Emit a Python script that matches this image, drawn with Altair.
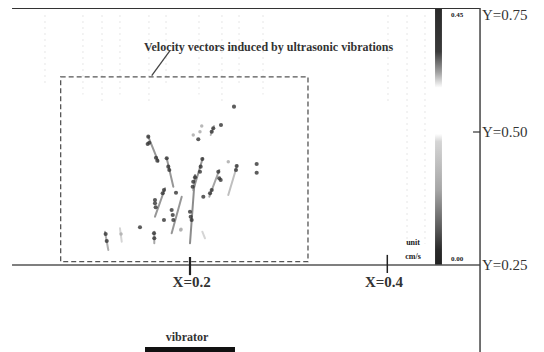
import altair as alt
import pandas as pd

# ---- data (physical units X, Y) ----
# velocity vector streaks (light lines)
seg_x1 = [0.1577, 0.1764, 0.1747, 0.1638, 0.1916, 0.2051, 0.2129, 0.2297, 0.2479, 0.1138, 0.1290, 0.2210, 0.2125]
seg_y1 = [0.4912, 0.4506, 0.3942, 0.3126, 0.3784, 0.4192, 0.4506, 0.4286, 0.4380, 0.3126, 0.3190, 0.4943, 0.3126]
seg_x2 = [0.1679, 0.1831, 0.1645, 0.1638, 0.1814, 0.2000, 0.2033, 0.2196, 0.2388, 0.1172, 0.1308, 0.2243, 0.2152]
seg_y2 = [0.4442, 0.3972, 0.3408, 0.2908, 0.3096, 0.2908, 0.3910, 0.3784, 0.3816, 0.2782, 0.2938, 0.5128, 0.3002]
seg_shade = ["#8c8c8c", "#8c8c8c", "#8c8c8c", "#a0a0a0", "#8c8c8c", "#7f7f7f", "#8c8c8c", "#9a9a9a", "#b8b8b8",
             "#a5a5a5", "#d0d0d0", "#b0b0b0", "#d0d0d0"]

# dark vector heads / dots
dot_x = [0.1577, 0.1571, 0.1587, 0.1655, 0.1669, 0.1764, 0.1780, 0.1790,
         0.1736, 0.1723, 0.1645, 0.1645, 0.1652, 0.1858, 0.1814, 0.1825, 0.1831,
         0.1736, 0.1635, 0.1638, 0.1493, 0.1145, 0.1156,
         0.2027, 0.2033, 0.2051, 0.2000, 0.2007, 0.2017,
         0.2125, 0.2108, 0.2101, 0.2135,
         0.2287, 0.2297, 0.2311, 0.2203, 0.2220,
         0.2473, 0.2466, 0.2676, 0.2676, 0.2446,
         0.2220, 0.2236, 0.2314, 0.2084]
dot_y = [0.4912, 0.4774, 0.4799, 0.4517, 0.4461, 0.4506, 0.4348, 0.4286,
         0.3910, 0.3848, 0.3722, 0.3660, 0.3585, 0.3859, 0.3534, 0.3440, 0.3346,
         0.3346, 0.3096, 0.3002, 0.3209, 0.3083, 0.2951,
         0.3972, 0.4066, 0.4148, 0.3502, 0.3408, 0.3346,
         0.4493, 0.4348, 0.4254, 0.3784,
         0.4254, 0.4130, 0.4098, 0.3848, 0.3910,
         0.4361, 0.4286, 0.4398, 0.4235, 0.5541,
         0.5006, 0.5079, 0.5150, 0.4863]

# faint dots
fdot_x = [0.2101, 0.2119, 0.2033, 0.1301, 0.1906, 0.1909, 0.2388]
fdot_y = [0.5006, 0.5128, 0.4944, 0.3083, 0.3158, 0.3171, 0.4442]

# faint background dotted verticals
bg_x = [0.0530, 0.0915, 0.1108, 0.1290, 0.1584, 0.1757, 0.2091, 0.2324, 0.2497, 0.2740, 0.4007, 0.4200, 0.4382]
bg_y1 = [0.75, 0.75, 0.75, 0.75, 0.75, 0.75, 0.75, 0.75, 0.75, 0.75, 0.75, 0.75, 0.75]
bg_y2 = [0.60, 0.58, 0.56, 0.58, 0.56, 0.60, 0.58, 0.56, 0.60, 0.58, 0.56, 0.29, 0.29]

# labels
ylab_text = ["Y=0.75", "Y=0.50", "Y=0.25"]
ylab_val = [0.75, 0.50, 0.25]
xlab_text = ["X=0.2", "X=0.4"]
xlab_val = [0.2, 0.4]

xs = alt.Scale(domain=[0.0, 0.6], range=[-15.3, 576.6], nice=False, zero=False)
ys = alt.Scale(domain=[0.08, 0.25, 0.5, 0.765], range=[347.4, 257, 124, 0], nice=False, zero=False)

SERIF = "Liberation Serif"


def X(f, **kw):
    return alt.X(f, type="quantitative", scale=xs, axis=None, **kw)


def Y(f, **kw):
    return alt.Y(f, type="quantitative", scale=ys, axis=None, **kw)


bg = pd.DataFrame({"x": bg_x, "y": bg_y1, "y2": bg_y2})
bg_layer = alt.Chart(bg).mark_rule(color="#e6e6e6", strokeDash=[2, 4], strokeWidth=1).encode(
    x=X("x"), y=Y("y"), y2="y2")

# colour bar
cb = pd.DataFrame({"x": [0.4484], "x2": [0.4554], "y": [0.765], "y2": [0.25]})
grad = alt.Gradient(
    gradient="linear", x1=0, x2=0, y1=0, y2=1,
    stops=[
        alt.GradientStop(offset=0.0, color="#2a2a2a"),
        alt.GradientStop(offset=0.17, color="#3a3a3a"),
        alt.GradientStop(offset=0.25, color="#a0a0a0"),
        alt.GradientStop(offset=0.31, color="#ffffff"),
        alt.GradientStop(offset=0.49, color="#ffffff"),
        alt.GradientStop(offset=0.52, color="#d5d5d5"),
        alt.GradientStop(offset=0.71, color="#a5a5a5"),
        alt.GradientStop(offset=0.86, color="#585858"),
        alt.GradientStop(offset=0.94, color="#2a2a2a"),
        alt.GradientStop(offset=1.0, color="#222222"),
    ],
)
cb_layer = alt.Chart(cb).mark_rect(color=grad).encode(x=X("x"), x2="x2", y=Y("y"), y2="y2")

# frame lines
hl = pd.DataFrame({"x": [0.0196, 0.0196], "x2": [0.494, 0.494], "y": [0.765, 0.25],
                   "w": ["top", "base"]})
top_layer = alt.Chart(hl[hl.w == "top"]).mark_rule(color="#333333", strokeWidth=2).encode(
    x=X("x"), x2="x2", y=Y("y"))
base_layer = alt.Chart(hl[hl.w == "base"]).mark_rule(color="#555555", strokeWidth=1.5).encode(
    x=X("x"), x2="x2", y=Y("y"))
vb = pd.DataFrame({"x": [0.494], "y": [0.765], "y2": [0.08]})
vb_layer = alt.Chart(vb).mark_rule(color="#444444", strokeWidth=1.5).encode(x=X("x"), y=Y("y"), y2="y2")
yt = pd.DataFrame({"x": [0.4869], "x2": [0.494], "y": [0.5]})
yt_layer = alt.Chart(yt).mark_rule(color="#333333", strokeWidth=1.2).encode(x=X("x"), x2="x2", y=Y("y"))
xt = pd.DataFrame({"x": xlab_val, "y": [0.265, 0.269], "y2": [0.231, 0.235], "w": [2.2, 1.5]})
xt_layer = alt.Chart(xt).mark_rule(color="#222222").encode(
    x=X("x"), y=Y("y"), y2="y2", strokeWidth=alt.StrokeWidth("w:Q", scale=None, legend=None))

# dashed box
box = pd.DataFrame({"x": [0.0689], "x2": [0.3196], "y": [0.618], "y2": [0.2562]})
box_layer = alt.Chart(box).mark_rect(fillOpacity=0, stroke="#555555", strokeDash=[5, 3],
                                     strokeWidth=1.3).encode(x=X("x"), x2="x2", y=Y("y"), y2="y2")

# leader line
ld = pd.DataFrame({"x": [0.1612], "y": [0.6203], "x2": [0.1797], "y2": [0.6737]})
ld_layer = alt.Chart(ld).mark_rule(color="#444444", strokeWidth=1.3).encode(
    x=X("x"), y=Y("y"), x2="x2", y2="y2")

# vectors
seg = pd.DataFrame({"x": seg_x1, "y": seg_y1, "x2": seg_x2, "y2": seg_y2, "c": seg_shade})
seg_layer = alt.Chart(seg).mark_rule(strokeWidth=2, strokeCap="round", opacity=0.9).encode(
    x=X("x"), y=Y("y"), x2="x2", y2="y2", color=alt.Color("c:N", scale=None, legend=None))
fd = pd.DataFrame({"x": fdot_x, "y": fdot_y})
fd_layer = alt.Chart(fd).mark_circle(size=12, color="#b0b0b0", opacity=0.9).encode(x=X("x"), y=Y("y"))
dd = pd.DataFrame({"x": dot_x, "y": dot_y})
dd_layer = alt.Chart(dd).mark_circle(size=17, color="#333333", opacity=0.8).encode(x=X("x"), y=Y("y"))

# vibrator
vib = pd.DataFrame({"x": [0.1544], "x2": [0.2456], "y": [0.091]})
vib_layer = alt.Chart(vib).mark_rule(color="#111111", strokeWidth=5).encode(x=X("x"), x2="x2", y=Y("y"))

# texts
ylab = pd.DataFrame({"x": [0.496] * 3, "y": ylab_val, "t": ylab_text})
ylab_layer = alt.Chart(ylab).mark_text(font=SERIF, fontSize=15, align="left", baseline="middle",
                                       color="#333333").encode(x=X("x"), y=Y("y"), text="t")
xlab = pd.DataFrame({"x": [0.2017, 0.3967], "y": [0.218, 0.218], "t": xlab_text})
xlab_layer = alt.Chart(xlab).mark_text(font=SERIF, fontSize=15, fontWeight="bold", align="center",
                                       baseline="middle", color="#333333").encode(x=X("x"), y=Y("y"), text="t")
cbl = pd.DataFrame({"x": [0.4707, 0.4707], "y": [0.75, 0.2613], "t": ["0.45", "0.00"]})
cbl_layer = alt.Chart(cbl).mark_text(font=SERIF, fontSize=7, fontWeight="bold", align="center",
                                     baseline="middle", color="#222222").encode(x=X("x"), y=Y("y"), text="t")
unit = pd.DataFrame({"x": [0.4261, 0.4261], "y": [0.2914, 0.265], "t": ["unit", "cm/s"]})
unit_layer = alt.Chart(unit).mark_text(font=SERIF, fontSize=8, fontWeight="bold", align="center",
                                       baseline="middle", color="#1a1a1a").encode(x=X("x"), y=Y("y"), text="t")
ann = pd.DataFrame({"x": [0.2796], "y": [0.6816],
                    "t": ["Velocity vectors induced by ultrasonic vibrations"]})
ann_layer = alt.Chart(ann).mark_text(font=SERIF, fontSize=12, fontWeight="bold", align="center",
                                     baseline="middle", color="#333333").encode(x=X("x"), y=Y("y"), text="t")
vl = pd.DataFrame({"x": [0.197], "y": [0.1147], "t": ["vibrator"]})
vl_layer = alt.Chart(vl).mark_text(font=SERIF, fontSize=12, fontWeight="bold", align="center",
                                   baseline="middle", color="#333333").encode(x=X("x"), y=Y("y"), text="t")

chart = alt.layer(
    bg_layer, cb_layer, box_layer, top_layer, base_layer, vb_layer, yt_layer, xt_layer, ld_layer,
    seg_layer, fd_layer, dd_layer, vib_layer, ylab_layer, xlab_layer, cbl_layer, unit_layer,
    ann_layer, vl_layer,
).properties(
    width=528, height=344, padding=0, autosize=alt.AutoSizeParams(type="none"), background="white"
).configure_view(stroke=None)

chart.save("out.html", embed_options={"renderer": "svg", "actions": False})
